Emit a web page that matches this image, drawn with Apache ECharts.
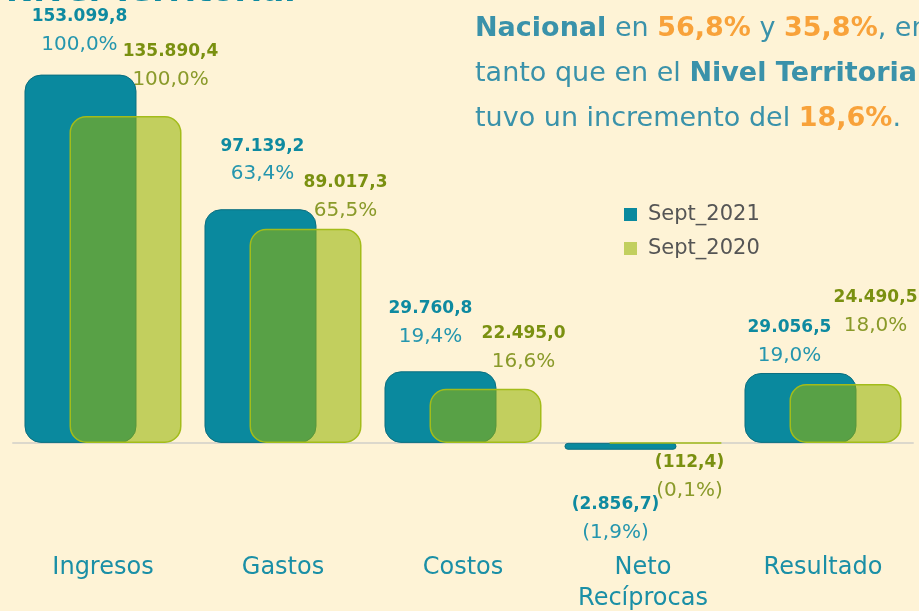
<!DOCTYPE html>
<html>
<head>
<meta charset="utf-8">
<script src="https://cdn.jsdelivr.net/npm/echarts@6/dist/echarts.min.js"></script>
<style>
html, body { margin: 0; padding: 0; background: #FEF3D6; }
#main { width: 919px; height: 611px; }
</style>
</head>
<body>
<div id="main"></div>
<script>
// datos
var categorias = ['Ingresos', 'Gastos', 'Costos', 'Neto\nRecíprocas', 'Resultado'];
var sept2021 = [153099.8, 97139.2, 29760.8, -2856.7, 29056.5];
var sept2020 = [135890.4, 89017.3, 22495.0, -112.4, 24490.5];
var pct2021 = ['100,0%', '63,4%', '19,4%', '(1,9%)', '19,0%'];
var pct2020 = ['100,0%', '65,5%', '16,6%', '(0,1%)', '18,0%'];

// desplazamiento de etiquetas [dx, dy]
var off2021 = [[-1, -16], [2, -21], [-10, -21], [-5, 41], [-11, -3]];
var off2020 = [[45, -22], [40, -4], [38, -13], [24, 5], [30, -44]];

var fuente = '"DejaVu Sans", sans-serif';

function fmt(v) {
	var neg = v < 0;
	var s = Math.abs(v).toFixed(1).split('.');
	var ent = s[0].replace(/\B(?=(\d{3})+(?!\d))/g, '.');
	var txt = ent + ',' + s[1];
	return neg ? '(' + txt + ')' : txt;
}

function armar(valores, pcts, offs) {
	return valores.map(function (v, i) {
		return {
			value: v,
			label: {
				position: v < 0 ? 'bottom' : 'top',
				offset: offs[i],
				formatter: '{v|' + fmt(v) + '}\n{p|' + pcts[i] + '}'
			}
		};
	});
}

var myChart = echarts.init(document.getElementById('main'));
var option = {
	backgroundColor: '#FEF3D6',
	animation: false,
	textStyle: { fontFamily: fuente },
	grid: { left: 13, right: 6, top: 58, height: 433, outerBoundsMode: 'none', containLabel: false },
	legend: {
		orient: 'vertical',
		left: 624,
		top: 204,
		padding: 0,
		itemWidth: 13,
		itemHeight: 13,
		itemGap: 13,
		icon: 'rect',
		itemStyle: { borderWidth: 0 },
		textStyle: { fontSize: 21, color: '#555555', fontFamily: fuente, padding: [0, 0, 0, 6] },
		data: ['Sept_2021', 'Sept_2020']
	},
	graphic: [
		{
			type: 'text', left: 6, top: -24,
			style: { text: 'Nivel Territorial', fontSize: 33, fontWeight: 'bold', fill: '#0E8AA0', fontFamily: fuente }
		},
		{
			type: 'text', left: 475, top: 15,
			style: {
				text: '{b|Nacional}{n| en }{o|56,8%}{n| y }{o|35,8%}{n|, en}\n{n|tanto que en el }{b|Nivel Territorial}\n{n|tuvo un incremento del }{o|18,6%}{n|.}',
				fontFamily: fuente,
				rich: {
					n: { fontSize: 27, fill: '#3A92AA', lineHeight: 45, fontFamily: fuente },
					b: { fontSize: 27, fill: '#3A92AA', fontWeight: 'bold', lineHeight: 45, fontFamily: fuente },
					o: { fontSize: 27, fill: '#F8A23A', fontWeight: 'bold', lineHeight: 45, fontFamily: fuente }
				}
			}
		}
	],
	xAxis: {
		type: 'category',
		data: categorias,
		axisLine: { show: true, lineStyle: { color: '#DCD8CC', width: 2 } },
		axisTick: { show: false },
		axisLabel: {
			interval: 0,
			margin: 61,
			fontSize: 24,
			lineHeight: 31,
			color: '#1A8FA6',
			fontFamily: fuente
		}
	},
	yAxis: {
		type: 'value',
		min: -20000,
		max: 160000,
		show: false,
		splitLine: { show: false }
	},
	series: [
		{
			name: 'Sept_2021',
			type: 'bar',
			barWidth: 112,
			barGap: '-59.8%',
			data: armar(sept2021, pct2021, off2021),
			itemStyle: {
				color: '#0A899E',
				borderColor: '#0B6F80',
				borderWidth: 1,
				borderRadius: 16
			},
			label: {
				show: true,
				distance: 0,
				fontFamily: fuente,
				rich: {
					v: { fontSize: 17, fontWeight: 'bold', color: '#0E8AA0', lineHeight: 28, fontFamily: fuente },
					p: { fontSize: 20, color: '#2596AE', lineHeight: 28, fontFamily: fuente }
				}
			}
		},
		{
			name: 'Sept_2020',
			type: 'bar',
			barWidth: 112,
			data: armar(sept2020, pct2020, off2020),
			itemStyle: {
				color: 'rgba(148,179,3,0.57)',
				borderColor: '#A3BC1A',
				borderWidth: 1.5,
				borderRadius: 16
			},
			label: {
				show: true,
				distance: 0,
				fontFamily: fuente,
				rich: {
					v: { fontSize: 17, fontWeight: 'bold', color: '#7A9010', lineHeight: 28, fontFamily: fuente },
					p: { fontSize: 20, color: '#8A9A2A', lineHeight: 28, fontFamily: fuente }
				}
			}
		}
	]
};
myChart.setOption(option);
</script>
</body>
</html>
